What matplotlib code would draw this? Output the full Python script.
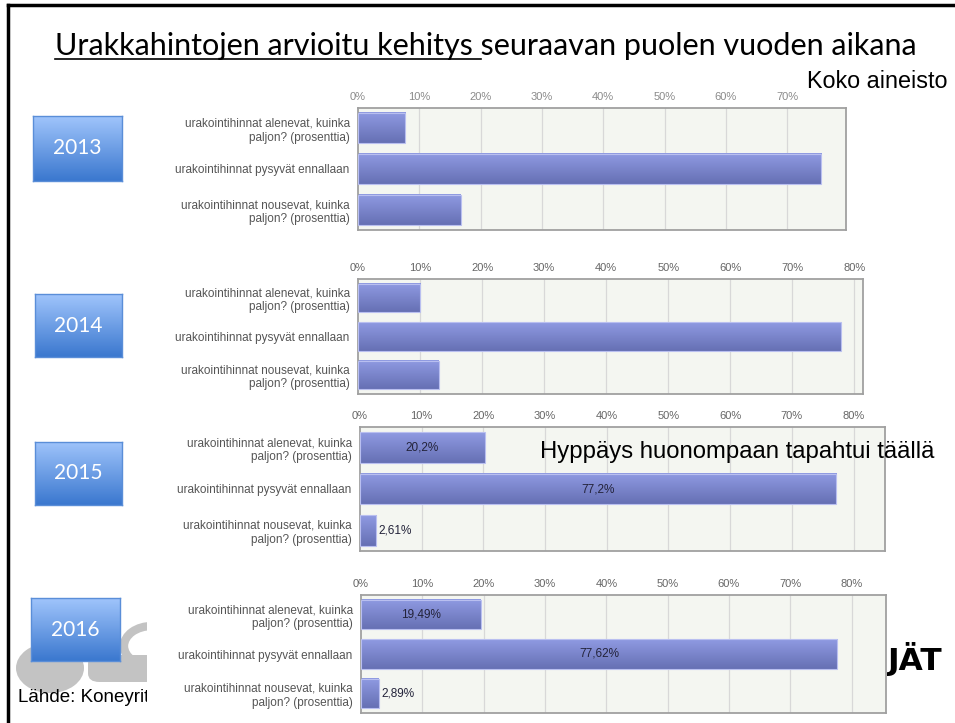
import numpy as np
import matplotlib
matplotlib.use("Agg")
import matplotlib.pyplot as plt
from matplotlib.patches import Rectangle, FancyBboxPatch, Arc, Ellipse
from matplotlib.lines import Line2D

W, H = 955, 723

# --- data ---
years = ["2013", "2014", "2015", "2016"]
categories = [
    "urakointihinnat alenevat, kuinka\npaljon? (prosenttia)",
    "urakointihinnat pysyvät ennallaan",
    "urakointihinnat nousevat, kuinka\npaljon? (prosenttia)",
]
values_2013 = [7.7, 75.6, 16.8]
values_2014 = [10.0, 77.8, 13.0]
values_2015 = [20.2, 77.2, 2.61]
values_2016 = [19.49, 77.62, 2.89]
labels_2015 = ["20,2%", "77,2%", "2,61%"]
labels_2016 = ["19,49%", "77,62%", "2,89%"]
tick_vals = [0, 10, 20, 30, 40, 50, 60, 70, 80]

title_full = "Urakkahintojen arvioitu kehitys seuraavan puolen vuoden aikana"
title_underlined = "Urakkahintojen arvioitu kehitys "


def rect(l, t, r, b):
    return [l / W, 1 - b / H, (r - l) / W, (b - t) / H]


def fx(x):
    return x / W


def fy(y):
    return 1 - y / H


fig = plt.figure(figsize=(W / 100, H / 100), dpi=100)
fig.patch.set_facecolor("white")

# slide frame (left + top)
fig.add_artist(Line2D([fx(8), fx(8)], [fy(5), fy(723)], color="black", lw=2.5, zorder=5))
fig.add_artist(Line2D([fx(8), fx(955)], [fy(5), fy(5)], color="black", lw=2.5, zorder=5))

# title with partial underline
t = fig.text(fx(486), fy(55), title_full, ha="center", va="baseline",
             fontsize=22, family="Lato", color="black")
fig.canvas.draw()
r = fig.canvas.get_renderer()
bb = t.get_window_extent(r)
tmp = fig.text(0, 0, title_underlined, fontsize=22, family="Lato")
pw = tmp.get_window_extent(r).width
tmp.remove()
uy = fy(59)
fig.add_artist(Line2D([bb.x0 / W, (bb.x0 + pw) / W], [uy, uy], color="black", lw=1.2))

fig.text(fx(947), fy(82), "Koko aineisto", ha="right", va="center",
         fontsize=16.8, family="Liberation Sans", zorder=6)

# logo / source text partly hidden behind the last chart picture
fig.text(fx(18), fy(697), "Lähde: Koneyrit", ha="left", va="center",
         fontsize=13.5, family="Liberation Sans", zorder=0.3)
fig.text(fx(888), fy(659), "JÄT", ha="left", va="center",
         fontsize=22.5, family="DejaVu Sans", weight="bold", zorder=0.3)
grey = "#c3c3c3"
fig.add_artist(Ellipse((fx(50), fy(668)), fx(68), fy(640) - fy(690),
                       transform=fig.transFigure, fc=grey, ec="none", zorder=0.3))
fig.add_artist(FancyBboxPatch((fx(88), fy(682)), fx(70), fy(655) - fy(682),
                              boxstyle="round,pad=0,rounding_size=0.012",
                              transform=fig.transFigure, fc=grey, ec="none", zorder=0.3))
fig.add_artist(Arc((fx(152), fy(646)), fx(56), fy(626) - fy(666), theta1=90, theta2=270,
                   transform=fig.transFigure, color=grey, lw=6, zorder=0.3))
# white background of the pasted chart picture
fig.add_artist(Rectangle((fx(147), fy(723)), fx(887 - 147), fy(572) - fy(723),
                         transform=fig.transFigure, fc="white", ec="none", zorder=0.5))

panels = [
    (years[0], values_2013, None, (358, 108, 846, 230), 79.6, tick_vals[:-1], (33, 116, 122, 181)),
    (years[1], values_2014, None, (358, 279, 863, 394), 81.4, tick_vals, (35, 294, 122, 357)),
    (years[2], values_2015, labels_2015, (360, 427, 885, 551), 85.1, tick_vals, (35, 442, 122, 505)),
    (years[3], values_2016, labels_2016, (361, 595, 886, 713), 85.6, tick_vals, (31, 598, 120, 661)),
]

grad = np.linspace(0, 1, 50).reshape(-1, 1)
bar_cmap = matplotlib.colors.LinearSegmentedColormap.from_list("bar", ["#8f9ae2", "#6670b4"])
box_cmap = matplotlib.colors.LinearSegmentedColormap.from_list("box", ["#9fc4fb", "#3b78cf"])
bh = 0.74

for k, (year, vals, labs, pos, xmax, ticks, box) in enumerate(panels):
    ax = fig.add_axes(rect(*pos))
    ax.set_zorder(1)
    ax.set_facecolor("#f4f6f1")
    for xv in ticks[1:]:
        ax.axvline(xv, color="#d8d8d8", lw=0.9, zorder=1)
    for i, v in enumerate(vals):
        ax.imshow(grad, cmap=bar_cmap, aspect="auto", extent=[0, v, i + bh / 2, i - bh / 2],
                  zorder=2, interpolation="bilinear")
        ax.add_patch(Rectangle((0, i - bh / 2), v, bh, fc="none", ec="#b9bff0", lw=0.8, zorder=3))
        if labs is not None:
            if v > 10:
                ax.text(v / 2, i, labs[i], ha="center", va="center", fontsize=8.5,
                        family="Liberation Sans", color="#23233a", zorder=4)
            else:
                ax.text(v + 0.4, i, labs[i], ha="left", va="center", fontsize=8.5,
                        family="Liberation Sans", color="#23233a", zorder=4)
    ax.set_xlim(0, xmax)
    ax.set_ylim(2.5, -0.5)
    ax.set_xticks(ticks)
    ax.set_xticklabels([f"{v}%" for v in ticks])
    ax.xaxis.tick_top()
    ax.tick_params(axis="x", length=0, pad=4, labelsize=8,
                   labelcolor="#8a8a8a" if k == 0 else "#666666")
    ax.set_yticks(range(len(categories)))
    ax.set_yticklabels(categories, fontsize=8.5, color="#555555", family="Liberation Sans")
    ax.tick_params(axis="y", length=0, pad=6)
    for lab in ax.get_yticklabels():
        lab.set_horizontalalignment("right")
        lab.set_multialignment("right")
    for lab in ax.get_xticklabels():
        lab.set_family("Liberation Sans")
    for s in ax.spines.values():
        s.set_color("#a0a0a0")
        s.set_linewidth(1.3)

    # year box
    bx = fig.add_axes(rect(*box))
    bx.set_zorder(2)
    bx.imshow(grad, cmap=box_cmap, aspect="auto", extent=[0, 1, 0, 1], interpolation="bilinear")
    bx.set_xlim(0, 1)
    bx.set_ylim(0, 1)
    bx.set_xticks([])
    bx.set_yticks([])
    for s in bx.spines.values():
        s.set_color("#5a8ed8")
        s.set_linewidth(1)
    bx.text(0.5, 0.5, year, ha="center", va="center", color="white", fontsize=15, family="Lato")

fig.text(fx(540), fy(452), "Hyppäys huonompaan tapahtui täällä", ha="left", va="center",
         fontsize=17.2, family="Liberation Sans", zorder=6)

fig.savefig("out.png", dpi=100)
